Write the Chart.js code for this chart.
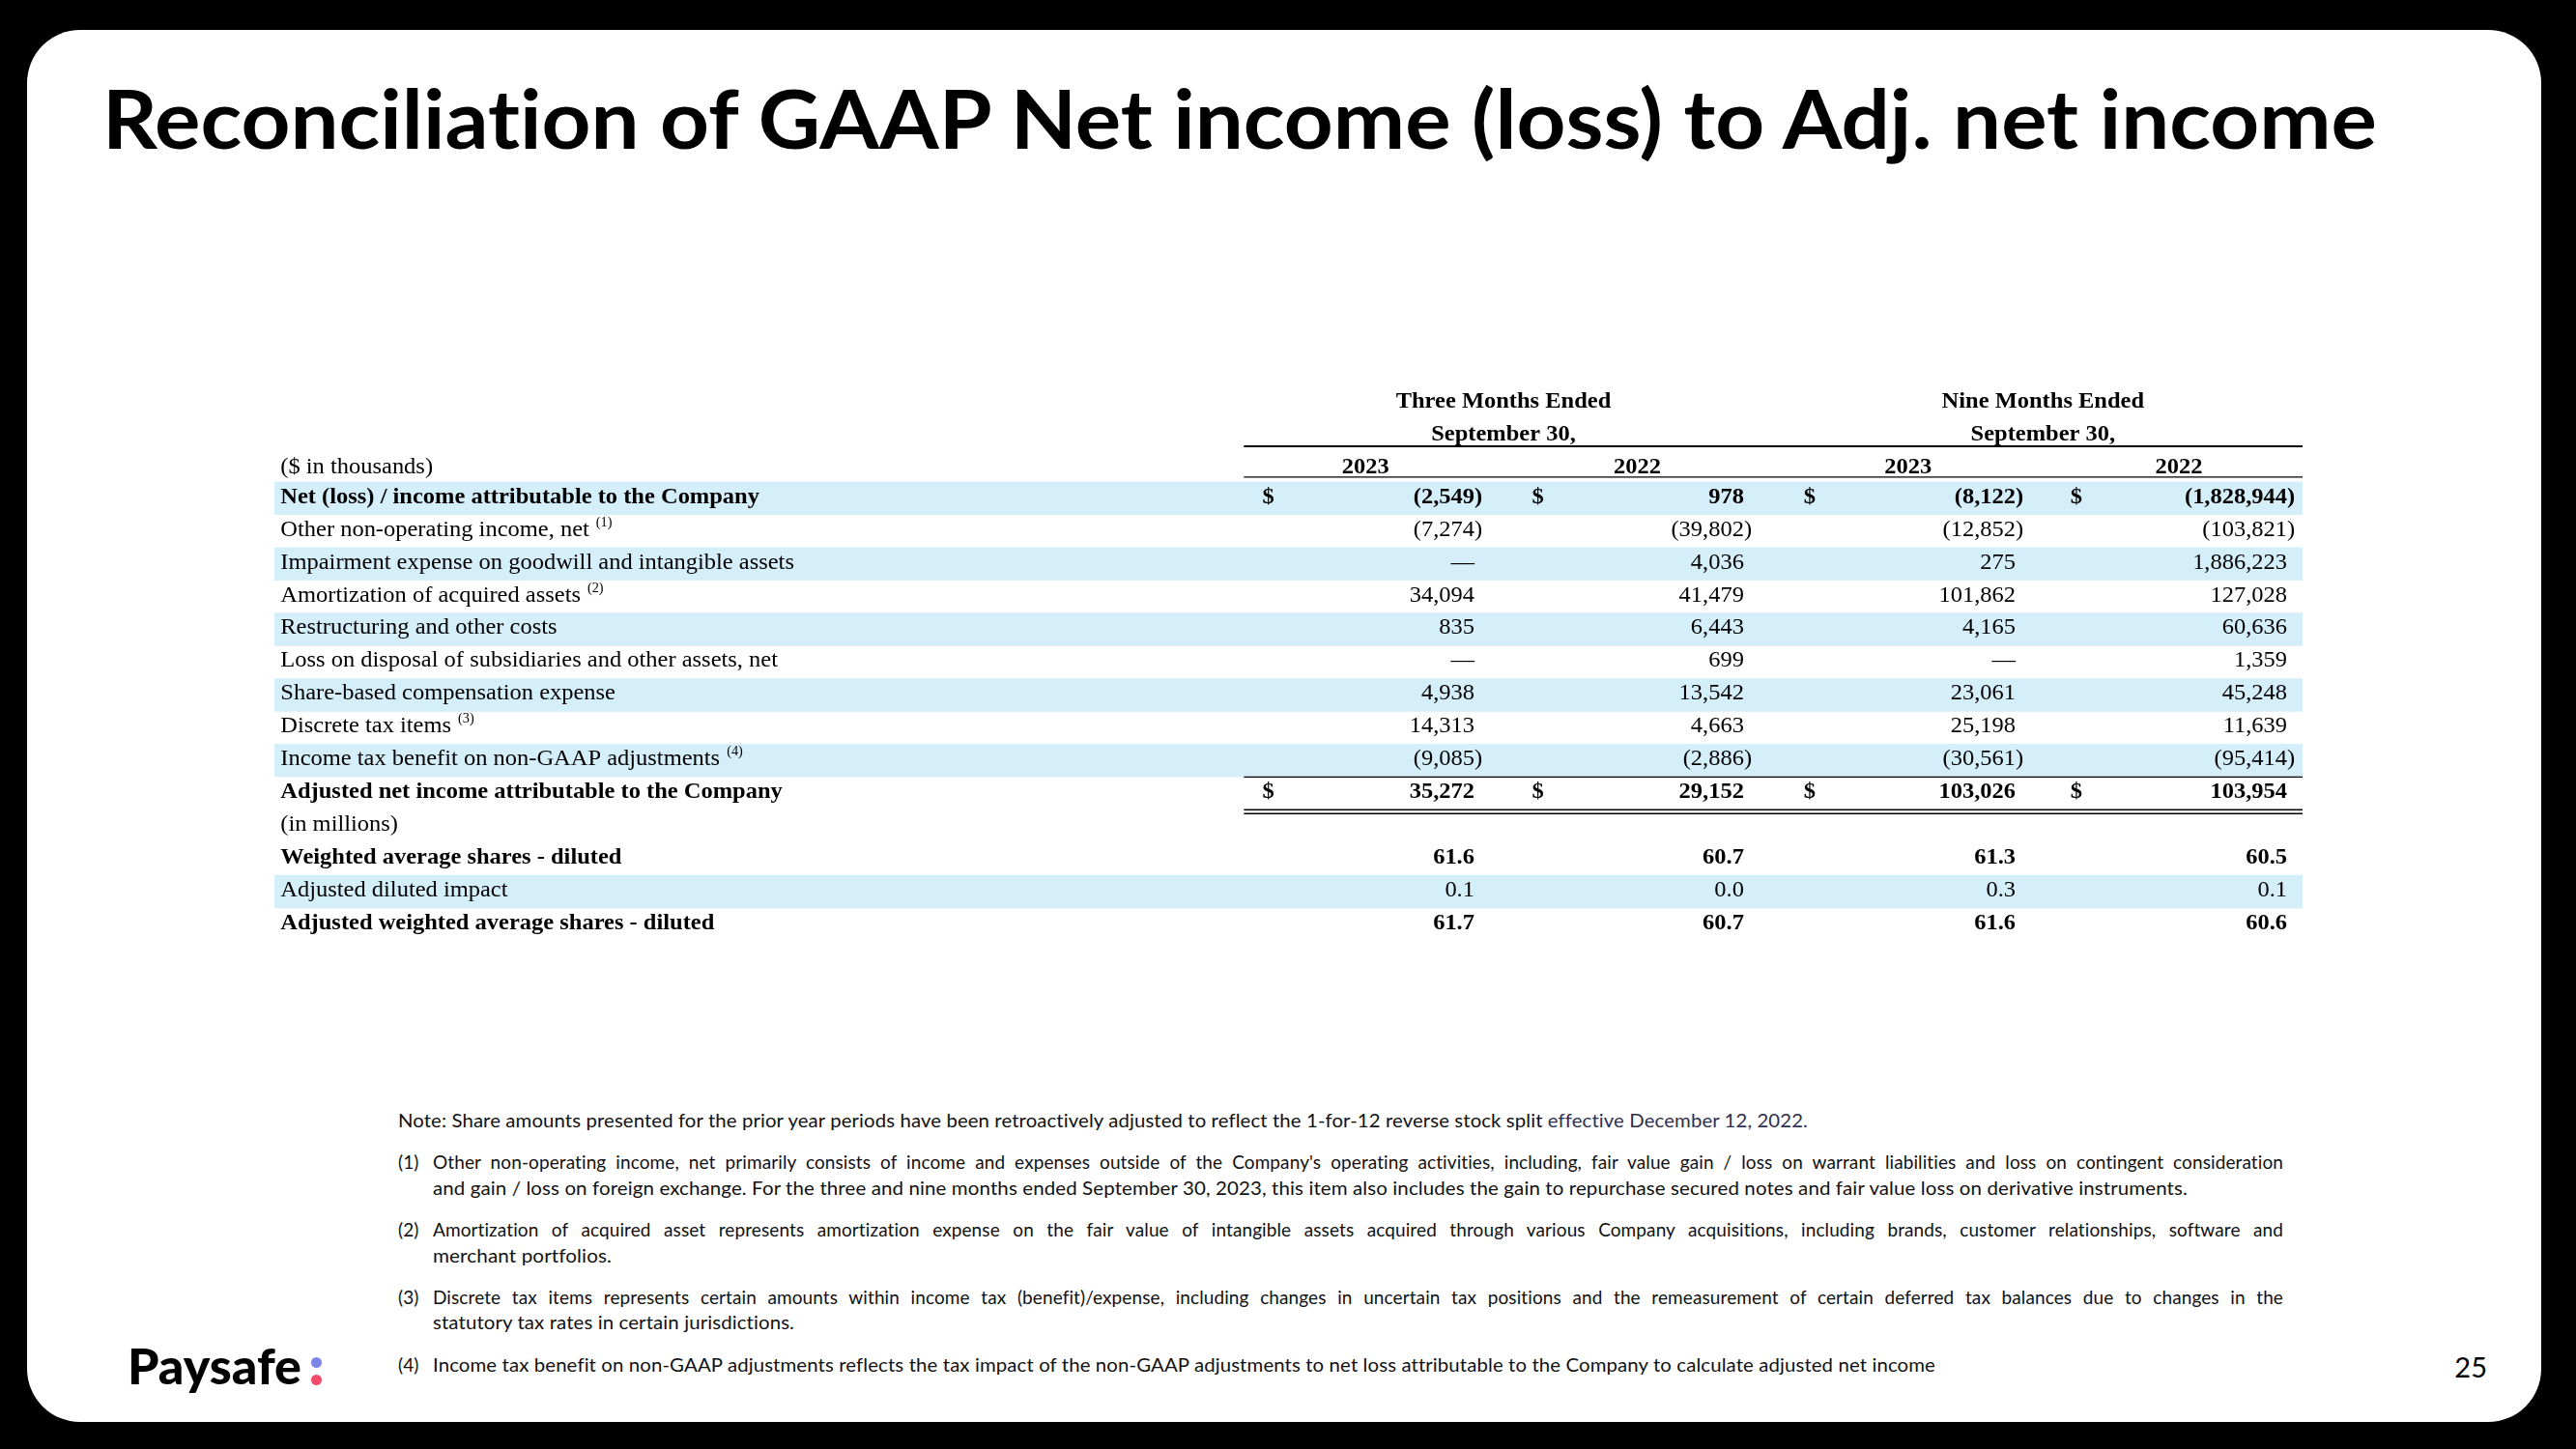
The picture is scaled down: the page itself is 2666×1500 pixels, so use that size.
<!DOCTYPE html>
<html>
<head>
<meta charset="utf-8">
<title>Reconciliation of GAAP Net income (loss) to Adj. net income</title>
<script src="https://cdn.jsdelivr.net/npm/chart.js@4.4.0/dist/chart.umd.min.js"></script>
<style>
  html, body { margin: 0; padding: 0; background: #000; width: 2666px; height: 1500px; overflow: hidden; }
  body { font-variant-ligatures: none; font-feature-settings: "liga" 0, "clig" 0; }
  #slide { position: absolute; left: 28px; top: 31px; width: 2602px; height: 1441px; background: #fff; border-radius: 55px; }
  .abs { position: absolute; white-space: nowrap; transform-origin: 0 0; }
  #title { font-family: Lato, 'Open Sans', sans-serif; font-weight: 700; font-size: 84px; line-height: 84px; color: #000; }
  .note { font-family: Lato, 'Open Sans', sans-serif; font-size: 19px; line-height: 27px; letter-spacing: 0.1px; color: #111; }
  #logo { font-family: Lato, 'Open Sans', sans-serif; font-weight: 900; font-size: 52px; line-height: 52px; color: #000; }
  .dot { position: absolute; width: 11px; height: 11px; border-radius: 50%; }
  #page { font-family: Lato, 'Open Sans', sans-serif; font-size: 29px; line-height: 29px; color: #000; }
  #tableWrap { position: absolute; left: 284px; top: 397px; width: 2099px; height: 577px; }
</style>
</head>
<body>
<div id="slide"></div>

<div id="title" class="abs fit" style="left:106px; top:80px" data-w="2354">Reconciliation of GAAP Net income (loss) to Adj. net income</div>

<div id="tableWrap"><canvas id="reconTable"></canvas></div>

<div class="note abs fit" style="left:412px; top:1146px" data-w="1459">Note: Share amounts presented for the prior year periods have been retroactively adjusted to reflect the 1-for-12 reverse stock split <span style="color:#2e2f52">effective December 12, 2022.</span></div>

<div class="note abs" style="left:412px; top:1189px">(1)</div>
<div class="note abs fit just" style="left:448px; top:1189px" data-w="1915">Other non-operating income, net primarily consists of income and expenses outside of the Company's operating activities, including, fair value gain / loss on warrant liabilities and loss on contingent consideration</div>
<div class="note abs fit" style="left:448px; top:1216px" data-w="1816">and gain / loss on foreign exchange. For the three and nine months ended September 30, 2023, this item also includes the gain to repurchase secured notes and fair value loss on derivative instruments.</div>

<div class="note abs" style="left:412px; top:1259px">(2)</div>
<div class="note abs fit just" style="left:448px; top:1259px" data-w="1915">Amortization of acquired asset represents amortization expense on the fair value of intangible assets acquired through various Company acquisitions, including brands, customer relationships, software and</div>
<div class="note abs fit" style="left:448px; top:1286px" data-w="185">merchant portfolios.</div>

<div class="note abs" style="left:412px; top:1329px">(3)</div>
<div class="note abs fit just" style="left:448px; top:1329px" data-w="1915">Discrete tax items represents certain amounts within income tax (benefit)/expense, including changes in uncertain tax positions and the remeasurement of certain deferred tax balances due to changes in the</div>
<div class="note abs fit" style="left:448px; top:1355px" data-w="374">statutory tax rates in certain jurisdictions.</div>

<div class="note abs" style="left:412px; top:1399px">(4)</div>
<div class="note abs fit" style="left:448px; top:1399px" data-w="1555">Income tax benefit on non-GAAP adjustments reflects the tax impact of the non-GAAP adjustments to net loss attributable to the Company to calculate adjusted net income</div>

<div id="logo" class="abs fit" style="left:132px; top:1387px" data-w="180">Paysafe</div>
<div class="dot" style="left:322px; top:1405px; background:#7c85e6"></div>
<div class="dot" style="left:322px; top:1423px; background:#f04a6c"></div>

<div id="page" class="abs" style="right:92px; top:1400px">25</div>

<script>
// ---- data ----
const periods = ['Three Months Ended', 'Nine Months Ended'];
const periodEnd = 'September 30,';
const years = ['2023', '2022', '2023', '2022'];
const unitsLabel = '($ in thousands)';

const items = [
  'Net (loss) / income attributable to the Company',
  'Other non-operating income, net',
  'Impairment expense on goodwill and intangible assets',
  'Amortization of acquired assets',
  'Restructuring and other costs',
  'Loss on disposal of subsidiaries and other assets, net',
  'Share-based compensation expense',
  'Discrete tax items',
  'Income tax benefit on non-GAAP adjustments',
  'Adjusted net income attributable to the Company',
  '(in millions)',
  'Weighted average shares - diluted',
  'Adjusted diluted impact',
  'Adjusted weighted average shares - diluted'
];
const itemNotes = ['', '(1)', '', '(2)', '', '', '', '(3)', '(4)', '', '', '', '', ''];

// null = dash, '' = empty cell
const threeMonths2023 = [-2549, -7274, null, 34094, 835, null, 4938, 14313, -9085, 35272, '', 61.6, 0.1, 61.7];
const threeMonths2022 = [978, -39802, 4036, 41479, 6443, 699, 13542, 4663, -2886, 29152, '', 60.7, 0.0, 60.7];
const nineMonths2023 = [-8122, -12852, 275, 101862, 4165, null, 23061, 25198, -30561, 103026, '', 61.3, 0.3, 61.6];
const nineMonths2022 = [-1828944, -103821, 1886223, 127028, 60636, 1359, 45248, 11639, -95414, 103954, '', 60.5, 0.1, 60.6];
const columns = [threeMonths2023, threeMonths2022, nineMonths2023, nineMonths2022];

// ---- styling / layout ----
const boldItems = [0, 9, 11, 13];
const dollarItems = [0, 9];
const shadedItems = [0, 2, 4, 6, 8, 12];
const firstMillionItem = 11;
const HEAD = 3;                 // header rows above the items
const SHADE = 'rgb(212, 238, 250)';
const FS = 24, SX = 1.02;       // serif size and horizontal stretch
const REG = FS + 'px "Liberation Serif", "Times New Roman", serif';
const BOLD = 'bold ' + REG;
const SUP = '14px "Liberation Serif", "Times New Roman", serif';
// column anchors in % of the table width
const labelX = 0.3;
const dollarX = [49.0, 62.3, 75.7, 88.85];
const numberX = [59.17, 72.46, 85.85, 99.24];
const yearX = [53.8, 67.2, 80.55, 93.9];
const periodX = [60.6, 87.2];
const ruleX = 47.8;

const categories = ['', '', unitsLabel].concat(items);

function fmt(v, decimals) {
  if (v === null) return '\u2014';
  const s = Math.abs(v).toLocaleString('en-US', { minimumFractionDigits: decimals, maximumFractionDigits: decimals });
  return v < 0 ? '(' + s + ')' : s;
}

function txt(ctx, s, px, py, align, font) {
  ctx.save();
  ctx.font = font;
  ctx.fillStyle = '#000';
  ctx.textAlign = align;
  ctx.textBaseline = 'alphabetic';
  ctx.translate(px, py);
  ctx.scale(SX, 1);
  ctx.fillText(s, 0, 0);
  const w = ctx.measureText(s).width * SX;
  ctx.restore();
  return w;
}

function width(ctx, s, font) {
  ctx.save();
  ctx.font = font;
  const w = ctx.measureText(s).width * SX;
  ctx.restore();
  return w;
}

const tableText = {
  id: 'tableText',
  afterDatasetsDraw(chart) {
    const { ctx, scales: { x, y } } = chart;
    const base = i => y.getPixelForValue(i) + FS * 0.33 - (i > 2 ? 3 : 0);
    const edge = (a, b) => (y.getPixelForValue(a) + y.getPixelForValue(b)) / 2;

    // column headers
    periods.forEach((p, k) => {
      txt(ctx, p, x.getPixelForValue(periodX[k]), base(0), 'center', BOLD);
      txt(ctx, periodEnd, x.getPixelForValue(periodX[k]), base(1), 'center', BOLD);
    });
    years.forEach((yr, k) => txt(ctx, yr, x.getPixelForValue(yearX[k]), base(2), 'center', BOLD));
    txt(ctx, unitsLabel, x.getPixelForValue(labelX), base(2), 'left', REG);

    // rows
    items.forEach((label, i) => {
      const row = HEAD + i;
      const font = boldItems.includes(i) ? BOLD : REG;
      const w = txt(ctx, label, x.getPixelForValue(labelX), base(row), 'left', font);
      if (itemNotes[i]) {
        txt(ctx, itemNotes[i], x.getPixelForValue(labelX) + w + 7, base(row) - 10, 'left', SUP);
      }
      const decimals = i >= firstMillionItem ? 1 : 0;
      columns.forEach((col, k) => {
        const v = col[i];
        if (v === '') return;
        if (dollarItems.includes(i)) txt(ctx, '$', x.getPixelForValue(dollarX[k]), base(row), 'center', font);
        const s = fmt(v, decimals);
        let px = x.getPixelForValue(numberX[k]);
        if (v !== null && v < 0) px += width(ctx, ')', font);
        txt(ctx, s, px, base(row), 'right', font);
      });
    });

    // rules
    const x0 = x.getPixelForValue(ruleX), x1 = x.getPixelForValue(100);
    const rule = (yy, lw) => {
      ctx.save();
      ctx.strokeStyle = '#000';
      ctx.lineWidth = lw;
      ctx.beginPath();
      ctx.moveTo(x0, yy);
      ctx.lineTo(x1, yy);
      ctx.stroke();
      ctx.restore();
    };
    rule(edge(1, 2) - 3, 2);
    rule(edge(2, 3) - 5, 1.2);
    const adj = HEAD + 9;
    rule(edge(adj - 1, adj), 1.2);
    rule(edge(adj, adj + 1), 1.6);
    rule(edge(adj, adj + 1) + 4, 1.6);
  }
};

new Chart(document.getElementById('reconTable'), {
  type: 'bar',
  data: {
    labels: categories,
    datasets: [{
      label: 'shading',
      data: categories.map((_, r) => shadedItems.includes(r - HEAD) ? [0, 100] : null),
      backgroundColor: SHADE,
      borderWidth: 0,
      barPercentage: 1,
      categoryPercentage: 1
    }]
  },
  options: {
    indexAxis: 'y',
    responsive: true,
    maintainAspectRatio: false,
    animation: false,
    devicePixelRatio: 1,
    layout: { padding: 0 },
    plugins: { legend: { display: false }, tooltip: { enabled: false }, title: { display: false } },
    scales: {
      x: { type: 'linear', min: 0, max: 100, display: false },
      y: { type: 'category', display: false }
    }
  },
  plugins: [tableText]
});

// squeeze html text lines to the widths they take on the slide
document.querySelectorAll('.fit').forEach(el => {
  const target = +el.dataset.w;
  const natural = el.getBoundingClientRect().width;
  if (el.classList.contains('just') && natural <= target) {
    el.style.whiteSpace = 'normal';
    el.style.width = target + 'px';
    el.style.textAlign = 'justify';
    el.style.textAlignLast = 'justify';
  } else {
    el.style.transform = 'scaleX(' + (target / natural) + ')';
  }
});
</script>
</body>
</html>
